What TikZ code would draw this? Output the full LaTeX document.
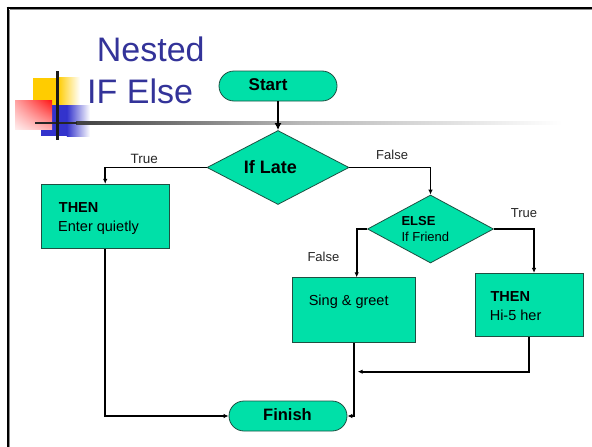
\documentclass[tikz,border=0pt]{standalone}
\usepackage{fontspec}
\setmainfont{Liberation Sans}
\usetikzlibrary{shapes.misc,shapes.geometric,arrows.meta,shadings}

\definecolor{mint}{RGB}{0,224,168}
\definecolor{mintline}{RGB}{30,80,66}
\definecolor{titleblue}{RGB}{51,51,153}
\definecolor{decoyellow}{RGB}{255,204,0}
\definecolor{decoblue}{RGB}{51,51,204}
\definecolor{decored}{RGB}{255,20,20}

\tikzset{
  terminal/.style={shape=rounded rectangle, draw=mintline, fill=mint, line width=0.8pt,
    minimum width=118pt, minimum height=30pt, inner sep=0pt},
  decision/.style={shape=diamond, draw=mintline, fill=mint, line width=0.8pt, inner sep=0pt},
  procbox/.style={shape=rectangle, draw=mintline, fill=mint, line width=0.8pt, inner sep=0pt},
  txt/.style={inner sep=0pt, anchor=base west, text=black},
  bodyfont/.style={font=\fontsize{14.5}{17}\selectfont},
  boldbody/.style={font=\fontsize{14.5}{17}\selectfont\bfseries},
  branchlbl/.style={font=\fontsize{13}{15}\selectfont, text=black!85},
  flow/.style={draw=black, line width=1.6pt, -{Latex[length=5pt,width=4.5pt]}},
  bigflow/.style={draw=black, line width=2.2pt, -{Latex[length=7pt,width=7pt]}},
  heading/.style={inner sep=0pt, anchor=base west, text=titleblue, font=\fontsize{34}{40}\selectfont}
}

\begin{document}
\begin{tikzpicture}[x=1pt,y=-1pt]
\useasboundingbox (0,0) rectangle (592,447);
\fill[white] (0,0) rectangle (592,447);

% slide frame with its soft shadow
\draw[black!45, line width=1.1pt] (9.5,9.5) -- (592,9.5);
\draw[black!45, line width=1.1pt] (9.5,9.5) -- (9.5,447);
\draw[black, line width=2.4pt] (6.7,7.8) -- (592,7.8);
\draw[black, line width=2.4pt] (7.8,6.7) -- (7.8,447);

% corner ornament: coloured squares
\fill[decoyellow] (33,77.7) rectangle (58,105);
\shade[left color=decoyellow, right color=white] (57.8,77.7) rectangle (80,105);
\fill[decoblue] (41,105) rectangle (67,136);
\shade[left color=decoblue, right color=white] (66.8,105) rectangle (90,136);
\shade[upper right=decored, upper left=decored!40, lower right=decored!35, lower left=decored!8]
  (15,100) rectangle (52,129);

% rule under the heading
\shade[left color=black!75, right color=black!28] (76,121.8) rectangle (300.2,124.2);
\shade[left color=black!28, right color=white] (300,121.8) rectangle (562,124.2);
\draw[black!85, line width=2.4pt] (35,123) -- (77,123);
\draw[black!90, line width=2.6pt] (57.3,71) -- (57.3,140);

% heading
\node[heading] (titleA) at (96.7,61.7) {Nested};
\node[heading] (titleB) at (87,103) {IF Else};

% flowchart shapes
\node[terminal] (start) at (278,86) {};
\node[decision, minimum width=142pt, minimum height=74pt] (late) at (278,167.5) {};
\node[procbox, minimum width=128.3pt, minimum height=64pt] (quiet) at (105.2,216.3) {};
\node[decision, minimum width=126pt, minimum height=68pt] (friend) at (430.5,229) {};
\node[procbox, minimum width=123.4pt, minimum height=65pt] (sing) at (354,310.2) {};
\node[procbox, minimum width=108.3pt, minimum height=63.4pt] (hifive) at (529.2,305) {};
\node[terminal] (finish) at (288,416) {};
\coordinate (merge) at (357.7,371.7);

% texts inside the shapes
\node[txt, font=\fontsize{17}{20}\selectfont\bfseries] (starttxt) at (248.5,90) {Start};
\node[txt, font=\fontsize{18}{21}\selectfont\bfseries] (latetxt) at (243.7,173.3) {If Late};
\node[txt, boldbody] (quietA) at (58.7,212.3) {THEN};
\node[txt, bodyfont] (quietB) at (58,231) {Enter quietly};
\node[txt, font=\fontsize{13}{15}\selectfont\bfseries] (friendA) at (401.3,225) {ELSE};
\node[txt, font=\fontsize{13}{15}\selectfont] (friendB) at (401.3,241.7) {If Friend};
\node[txt, bodyfont] (singtxt) at (308.6,305.4) {Sing \& greet};
\node[txt, boldbody] (hifiveA) at (490.4,301.7) {THEN};
\node[txt, bodyfont] (hifiveB) at (489.6,320) {Hi-5 her};
\node[txt, font=\fontsize{16.5}{19}\selectfont\bfseries] (finishtxt) at (263,420.7) {Finish};

% branch labels
\node[txt, branchlbl, font=\fontsize{13.5}{15}\selectfont] (lateT) at (130.4,163) {True};
\node[txt, branchlbl] (lateF) at (376,159) {False};
\node[txt, branchlbl] (friendT) at (510.7,217) {True};
\node[txt, branchlbl] (friendF) at (307.3,261) {False};

% connectors
\draw[bigflow] (start.south) -- (late.north);
\draw[flow] (late.west) -| (quiet.north);
\draw[flow] (late.east) -| (friend.north);
\draw[flow] (friend.east) -| ([xshift=4.8pt]hifive.north);
\draw[flow] (friend.west) -| ([xshift=2.7pt]sing.north);
\draw[flow] (quiet.south) |- (finish.west);
\draw[flow] (sing.south) |- (finish.east);
\draw[flow] (hifive.south) |- (merge);
\end{tikzpicture}
\end{document}
